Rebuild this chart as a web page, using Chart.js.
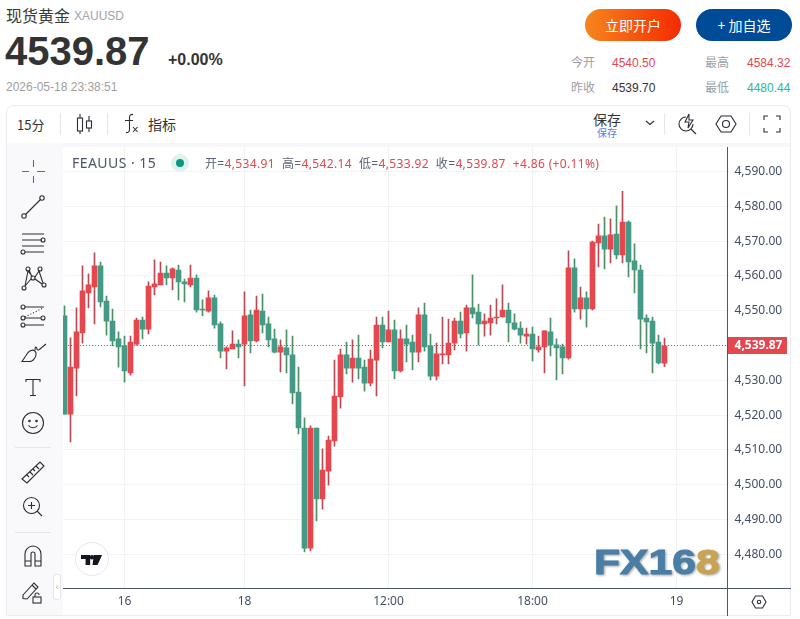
<!DOCTYPE html>
<html lang="zh">
<head>
<meta charset="utf-8">
<title>现货黄金 XAUUSD</title>
<script src="https://cdn.jsdelivr.net/npm/chart.js@4"></script>
<style>
html, body { margin: 0; padding: 0; background: #fff; }
body { width: 800px; height: 619px; position: relative; overflow: hidden; font-family: "Liberation Sans", "Noto Sans CJK SC", sans-serif; color: #333; }
.abs { position: absolute; white-space: nowrap; line-height: 1; }
.cjk { font-family: "Noto Sans CJK SC", sans-serif; }
.up { color: #e4474e; }
.stat { font-size: 12px; }
.label { color: #9a9ea8; }
.divider { position: absolute; background: #e6e6ea; }
.icon { position: absolute; fill: none; stroke: #2b2b33; stroke-width: 1.1; }
#panel { position: absolute; left: 6px; top: 105px; width: 785px; height: 511px; border: 1px solid #ececf0; border-radius: 8px 8px 0 0; box-sizing: border-box; }
#strip { position: absolute; left: 7px; top: 143px; width: 783px; height: 4px; background: #f7f7f9; }
#sidebar { position: absolute; left: 7px; top: 143px; width: 56px; height: 472px; background: #f9f9fb; }
#chartBox { position: absolute; left: 0; top: 0; width: 800px; height: 619px; }
#legend { font-family: "Noto Sans", "Noto Sans CJK SC", sans-serif; font-size: 12px; letter-spacing: .35px; color: #5a6478; top: 158px; left: 205px; }
</style>
</head>
<body>

<div class="abs cjk" style="left:6px;top:7px;font-size:16px;color:#3a3a3a;">现货黄金</div>
<div class="abs" style="left:74px;top:10px;font-size:12px;color:#a0a4ae;">XAUUSD</div>
<div class="abs" style="left:5px;top:31px;font-size:40px;font-weight:bold;color:#333;">4539.87</div>
<div class="abs" style="left:168px;top:52px;font-size:16px;font-weight:bold;color:#333;">+0.00%</div>
<div class="abs" style="left:6px;top:81px;font-size:12px;color:#a0a0a0;">2026-05-18 23:38:51</div>

<div class="abs cjk" style="left:585px;top:9px;width:96px;height:32px;line-height:32px;border-radius:16px;text-align:center;color:#fff;font-size:14px;background:linear-gradient(90deg,#f7861c,#f42a02);">立即开户</div>
<div class="abs cjk" style="left:696px;top:9px;width:96px;height:32px;line-height:32px;border-radius:16px;text-align:center;color:#fff;font-size:14px;background:#004b98;">+ 加自选</div>

<div class="abs stat cjk label" style="left:571px;top:56px;">今开</div>
<div class="abs stat up" style="left:612px;top:57px;">4540.50</div>
<div class="abs stat cjk label" style="left:705px;top:56px;">最高</div>
<div class="abs stat up" style="left:747px;top:57px;">4584.32</div>
<div class="abs stat cjk label" style="left:571px;top:81px;">昨收</div>
<div class="abs stat" style="left:612px;top:82px;">4539.70</div>
<div class="abs stat cjk label" style="left:705px;top:81px;">最低</div>
<div class="abs stat" style="left:747px;top:82px;color:#2bb59a;">4480.44</div>

<div id="panel"></div>
<div id="strip"></div>

<!-- top toolbar -->
<div class="abs cjk" style="left:17px;top:118px;font-size:13px;">15分</div>
<div class="divider" style="left:60px;top:113px;width:1px;height:22px;"></div>
<svg class="icon" style="left:75px;top:113px;" width="20" height="22"><path d="M5 1v4M5 18v3M14 3v5M14 15v4"/><rect x="2.500" y="5" width="5" height="13"/><rect x="11.500" y="8" width="5" height="7"/></svg>
<div class="divider" style="left:107px;top:113px;width:1px;height:22px;"></div>
<svg class="icon" style="left:123px;top:113px;" width="18" height="22"><path d="M10 1.500c-2.500-.5-3.500 1-3.500 3v12c0 2-1 3.500-3.500 3M2 7.500h8M10 14l4.500 5M14.500 14l-4.500 5"/></svg>
<div class="abs cjk" style="left:148px;top:117px;font-size:14px;">指标</div>
<div class="abs cjk" style="left:593px;top:112px;font-size:14px;">保存</div>
<div class="abs cjk" style="left:597px;top:128px;font-size:10px;color:#5b7ff0;">保存</div>
<svg class="icon" style="left:645px;top:119px;" width="10" height="8"><path d="M1 2l4 3.500 4-3.500"/></svg>
<div class="divider" style="left:664px;top:113px;width:1px;height:22px;"></div>
<svg class="icon" style="left:677px;top:112px;" width="22" height="24"><path d="M9 5a7 7 0 1 0 7 7M14 17l5 5M12 2l-4 8h4l-1 6 5-8h-4z"/></svg>
<svg class="icon" style="left:715px;top:113px;" width="22" height="22"><path d="M6 3h10l5 8-5 8H6l-5-8z"/><circle cx="11" cy="11" r="3.500"/></svg>
<div class="divider" style="left:749px;top:113px;width:1px;height:22px;"></div>
<svg class="icon" style="left:763px;top:115px;" width="18" height="18"><path d="M1 5V1h4M13 1h4v4M17 13v4h-4M5 17H1v-4"/></svg>

<!-- chart -->
<div id="chartBox"><canvas id="priceChart" width="800" height="619"></canvas></div>
<div id="sidebar"></div>

<!-- legend over the plot -->
<div class="abs" style="left:72px;top:156px;font-family:'Noto Sans',sans-serif;font-size:14px;letter-spacing:.45px;color:#4a5568;">FEAUUS · 15</div>
<div class="abs" style="left:171px;top:154px;width:18px;height:18px;border-radius:9px;background:#dff2ee;"></div>
<div class="abs" style="left:176px;top:159px;width:8px;height:8px;border-radius:4px;background:#089981;"></div>
<div class="abs" id="legend">开=<span class="up">4,534.91</span>&nbsp; 高=<span class="up">4,542.14</span>&nbsp; 低=<span class="up">4,533.92</span>&nbsp; 收=<span class="up">4,539.87</span>&nbsp; <span class="up">+4.86 (+0.11%)</span></div>

<!-- axis lines -->
<div class="abs" style="left:63px;top:588px;width:728px;height:1px;background:#4a5675;"></div>
<div class="abs" style="left:727px;top:147px;width:1px;height:469px;background:#4a5675;"></div>

<!-- drawing tools -->
<svg class="icon" style="left:20px;top:158px;" width="26" height="26"><path stroke="#3b6ee8" d="M13.500 2v7M13.500 18v7M2 13.500h7M17 13.500h8"/></svg>
<svg class="icon" style="left:20px;top:194px;" width="26" height="26"><circle cx="4" cy="22" r="2.200"/><circle cx="22" cy="4" r="2.200"/><path d="M5.500 20.500l15-15"/></svg>
<svg class="icon" style="left:20px;top:231px;" width="26" height="24"><path d="M2 3h22M2 9h20M2 15h22M5 21h19"/><circle cx="23" cy="9" r="2"/><circle cx="3" cy="21" r="2"/></svg>
<svg class="icon" style="left:21px;top:266px;" width="26" height="26"><circle cx="7" cy="3" r="2"/><circle cx="19" cy="3" r="2"/><circle cx="12" cy="12" r="2"/><circle cx="3" cy="22" r="2"/><circle cx="23" cy="19" r="2"/><path d="M4 20l3-15 4 5M8 4l3 7M14 11l4-6 4 12M10 13l-6 7M14 13l7 5"/></svg>
<svg class="icon" style="left:20px;top:304px;" width="26" height="24"><circle cx="3" cy="3" r="2"/><circle cx="3" cy="14" r="2"/><circle cx="3" cy="21" r="2"/><circle cx="23" cy="14" r="2"/><path d="M5 3h19M5 14h16M5 21h19"/><path stroke-dasharray="1 2" d="M5 13l18-9"/></svg>
<svg class="icon" style="left:20px;top:341px;" width="28" height="22"><path d="M2 20.500l6-9c2-2 5-3 7-1.500 2 2 1 6-1 8-1 2-3 2.500-5 2.500zM15 9c0-3 1-4 2-1 1 3 4-1 9-5"/></svg>
<svg class="icon" style="left:25px;top:378px;" width="16" height="19"><path d="M1 4V1.500h14V4M8 1.500v16M5 17.500h6"/></svg>
<svg class="icon" style="left:21px;top:411px;" width="24" height="24"><circle cx="12" cy="12" r="10.500"/><circle cx="8.500" cy="10" r=".8"/><circle cx="15.500" cy="10" r=".8"/><path d="M7.500 14.500c2 3 7 3 9 0"/></svg>
<div class="divider" style="left:15px;top:447px;width:36px;height:1px;"></div>
<svg class="icon" style="left:20px;top:459px;" width="26" height="26"><path d="M2 20L20 3l4 4L7 24zM7 16l2 2M10 13l3 3M13 10l2 2M16 7l3 3"/></svg>
<svg class="icon" style="left:22px;top:496px;" width="22" height="22"><circle cx="9.500" cy="9.500" r="8"/><path d="M9.500 6v7M6 9.500h7M15 15l5 5"/></svg>
<div class="divider" style="left:15px;top:532px;width:36px;height:1px;"></div>
<svg class="icon" style="left:24px;top:545px;" width="18" height="22"><path d="M1 21V9a8 8 0 0 1 16 0v12h-6V9a2 2 0 0 0-4 0v12zM1 16h6M11 16h6"/></svg>
<svg class="icon" style="left:21px;top:581px;" width="26" height="24"><path d="M2 14L13 2l4 4L6 18l-4-.5zM11 4l4 4"/><rect x="12" y="16" width="8" height="6"/><path d="M14 16v-2a2 2 0 0 1 4 0"/></svg>
<div class="abs" style="left:53px;top:574px;width:8px;height:26px;border:1px solid #e4e4ea;border-radius:3px;background:#fff;box-sizing:border-box;color:#aaa;font-size:9px;line-height:24px;text-align:center;">‹</div>

<!-- TradingView badge -->
<div class="abs" style="left:75px;top:542px;width:34px;height:34px;border-radius:17px;border:1px solid #e6e6ee;background:#fff;box-sizing:border-box;"></div>
<svg class="abs" style="left:81px;top:554px;" width="22" height="12" viewBox="0 0 24 13"><path fill="#131722" d="M0 1h10v11H5V5.500H0zM14 1h9l-5 11h-5.500z"/><circle cx="12" cy="3.500" r="2.400" fill="#131722"/></svg>

<!-- bottom right -->
<svg class="icon" style="left:751px;top:595px;" width="16" height="14"><path d="M4.500 1h7L15 7l-3.500 6h-7L1 7z"/><circle cx="8" cy="7" r="1.700"/></svg>

<!-- FX168 watermark -->
<div class="abs" style="left:594px;top:544px;font-size:35px;font-weight:bold;transform:scaleX(1.22);transform-origin:left top;color:#4a7ea5;-webkit-text-stroke:1px #4a7ea5;filter:drop-shadow(1px 1px 1px rgba(0,0,0,.35));">FX16<span style="color:#c9a352;-webkit-text-stroke:1px #c9a352;">8</span></div>

<script>
Chart.defaults.font.family = '"Noto Sans", sans-serif';

// candles, oldest first
const opens = [
  4548.5, 4520.3, 4533.5, 4543.6, 4555.1, 4556.8, 4562.9, 4552.8, 4547.0, 4541.9,
  4539.9, 4532.1, 4540.4, 4547.3, 4544.7, 4556.8, 4557.4, 4560.8, 4559.4, 4561.7,
  4558.3, 4557.4, 4559.4, 4550.5, 4549.9, 4553.7, 4546.2, 4538.4, 4539.0, 4540.4,
  4540.4, 4548.8, 4541.3, 4549.9, 4546.2, 4541.9, 4538.1, 4539.3, 4537.3, 4526.6,
  4516.3, 4481.8, 4516.3, 4495.9, 4503.9, 4512.6, 4525.2, 4537.3, 4533.5, 4536.4,
  4533.8, 4529.2, 4535.8, 4545.9, 4541.0, 4544.5, 4532.7, 4541.9, 4541.0, 4538.1,
  4548.8, 4539.9, 4531.2, 4537.3, 4537.3, 4540.7, 4547.0, 4543.6, 4550.8, 4549.6,
  4546.2, 4546.5, 4547.9, 4548.2, 4550.2, 4546.5, 4545.0, 4542.7, 4543.3, 4538.7,
  4539.6, 4543.9, 4540.2, 4539.6, 4536.4, 4562.3, 4550.5, 4553.7, 4550.5, 4569.5,
  4571.5, 4567.7, 4572.0, 4566.0, 4575.5, 4564.3, 4561.7, 4547.9, 4547.0, 4541.0,
  4534.91
];
const highs = [
  4551.4, 4542.2, 4550.8, 4562.9, 4560.6, 4566.6, 4564.0, 4554.2, 4550.5, 4543.9,
  4542.7, 4542.7, 4547.9, 4548.2, 4558.3, 4564.6, 4564.0, 4562.9, 4562.3, 4563.1,
  4559.1, 4563.1, 4560.3, 4553.1, 4555.7, 4554.5, 4546.8, 4539.6, 4544.2, 4541.6,
  4555.4, 4550.2, 4554.2, 4554.8, 4548.2, 4544.7, 4541.6, 4544.5, 4542.7, 4533.8,
  4519.2, 4516.9, 4516.3, 4510.3, 4514.0, 4535.8, 4539.0, 4541.0, 4541.6, 4543.0,
  4535.8, 4538.7, 4548.2, 4548.2, 4549.9, 4547.3, 4544.5, 4545.9, 4543.0, 4550.8,
  4552.2, 4543.3, 4540.7, 4548.2, 4547.6, 4547.9, 4549.6, 4551.6, 4560.3, 4551.9,
  4549.1, 4551.6, 4553.4, 4557.4, 4552.2, 4549.1, 4546.8, 4545.0, 4545.3, 4542.7,
  4544.2, 4547.9, 4541.9, 4540.4, 4567.2, 4564.9, 4556.8, 4555.4, 4570.0, 4574.9,
  4576.9, 4576.4, 4580.1, 4584.3, 4575.8, 4569.2, 4563.1, 4548.8, 4548.2, 4543.0,
  4542.14
];
const lows = [
  4520.3, 4512.3, 4525.5, 4540.7, 4550.8, 4546.2, 4551.1, 4543.0, 4539.9, 4533.8,
  4529.5, 4531.5, 4540.1, 4541.9, 4543.3, 4554.5, 4557.4, 4557.4, 4556.0, 4553.1,
  4552.5, 4556.8, 4549.6, 4548.5, 4549.6, 4545.0, 4536.4, 4533.3, 4539.0, 4536.4,
  4528.4, 4537.9, 4541.0, 4543.6, 4539.6, 4537.9, 4532.4, 4532.1, 4523.2, 4514.6,
  4480.7, 4481.0, 4489.6, 4493.0, 4499.9, 4511.1, 4522.0, 4531.8, 4529.5, 4530.4,
  4526.9, 4528.4, 4525.5, 4539.3, 4541.0, 4530.4, 4532.4, 4535.3, 4533.0, 4535.3,
  4538.4, 4530.1, 4530.1, 4534.7, 4534.7, 4538.7, 4542.2, 4538.4, 4547.9, 4540.2,
  4542.7, 4543.0, 4546.2, 4548.2, 4541.0, 4544.5, 4540.7, 4540.4, 4535.6, 4538.1,
  4532.1, 4537.0, 4530.1, 4531.8, 4536.1, 4549.6, 4547.6, 4545.3, 4550.2, 4562.6,
  4562.0, 4563.7, 4564.9, 4563.7, 4559.7, 4555.1, 4539.0, 4537.9, 4532.1, 4534.7,
  4533.92
];
const closes = [
  4520.3, 4533.8, 4543.9, 4555.7, 4557.4, 4562.9, 4552.5, 4547.0, 4541.3, 4539.6,
  4532.7, 4541.0, 4547.3, 4544.7, 4557.1, 4557.7, 4560.8, 4559.4, 4562.0, 4558.3,
  4557.7, 4559.4, 4550.2, 4550.2, 4553.7, 4545.9, 4538.4, 4539.3, 4540.4, 4539.6,
  4548.5, 4541.3, 4550.2, 4545.9, 4541.6, 4538.1, 4539.6, 4537.3, 4526.4, 4516.3,
  4481.8, 4516.3, 4495.9, 4504.2, 4512.8, 4525.5, 4537.3, 4533.5, 4536.4, 4533.5,
  4529.2, 4536.1, 4545.9, 4541.0, 4544.5, 4532.7, 4541.9, 4540.4, 4538.1, 4548.8,
  4539.6, 4531.2, 4537.6, 4537.6, 4540.7, 4547.0, 4543.3, 4550.8, 4549.1, 4546.2,
  4547.0, 4547.9, 4548.2, 4550.2, 4546.5, 4544.7, 4543.0, 4543.3, 4539.0, 4539.6,
  4544.2, 4540.2, 4539.3, 4536.4, 4562.3, 4550.5, 4553.7, 4550.5, 4569.7, 4571.5,
  4567.7, 4571.8, 4566.0, 4575.5, 4564.0, 4561.7, 4547.6, 4546.8, 4540.7, 4535.0,
  4539.87
];

const yTicks = [4480, 4490, 4500, 4510, 4520, 4530, 4540, 4550, 4560, 4570, 4580, 4590];
const xTickLabels = ['16', '18', '12:00', '18:00', '19'];
const xTickSlots = [10, 30, 54, 78, 102];
const emptySlots = 10; // free room right of the last candle
const lastClose = closes[closes.length - 1];

const upBody = '#e4474e';
const downBody = '#449a84';
const upWick = '#b84a55';
const downWick = '#4c9164';
const gridColor = '#f3f3f5';
const axisText = '#434e66';

let labels = [];
for (let i = 0; i < opens.length + emptySlots; i++) {
    let at = xTickSlots.indexOf(i);
    labels.push(at >= 0 ? xTickLabels[at] : '');
}

let isUp = opens.map((o, i) => closes[i] >= o);

// dotted last price line (under the candles) and the red tag on the axis
const priceLine = {
    id: 'priceLine',
    beforeDatasetsDraw(chart) {
        let ctx = chart.ctx;
        let area = chart.chartArea;
        let y = Math.floor(chart.scales.y.getPixelForValue(lastClose)) + 0.5 - 1;
        y = Math.round(y) + 0.5;
        ctx.save();
        ctx.strokeStyle = upBody;
        ctx.lineWidth = 1;
        ctx.setLineDash([1, 2]);
        ctx.beginPath();
        ctx.moveTo(Math.ceil(area.left), y);
        ctx.lineTo(area.right, y);
        ctx.stroke();
        ctx.setLineDash([]);
        ctx.fillStyle = upBody;
        ctx.fillRect(727, y - 8.5, 60, 17);
        ctx.fillStyle = '#fff';
        ctx.font = 'bold 12px "Noto Sans", sans-serif';
        ctx.textAlign = 'center';
        ctx.textBaseline = 'middle';
        ctx.fillText(lastClose.toLocaleString('en-US', { minimumFractionDigits: 2 }), 758.5, y);
        ctx.restore();
    }
};

new Chart(document.getElementById('priceChart').getContext('2d'), {
    type: 'bar',
    data: {
        labels: labels,
        datasets: [
            {
                label: 'body',
                data: opens.map((o, i) => [o, closes[i]]),
                backgroundColor: isUp.map(up => up ? upBody : downBody),
                barThickness: 5,
                order: 1
            },
            {
                label: 'wick',
                data: lows.map((l, i) => [l, highs[i]]),
                backgroundColor: isUp.map(up => up ? upWick : downWick),
                barThickness: 1,
                order: 2
            }
        ]
    },
    options: {
        responsive: false,
        animation: false,
        events: [],
        layout: { padding: { left: 61.5, top: 147, right: 7.5, bottom: 0 } },
        plugins: { legend: { display: false }, tooltip: { enabled: false } },
        datasets: { bar: { grouped: false } },
        scales: {
            x: {
                grid: {
                    offset: false,
                    drawTicks: false,
                    color: ctx => (ctx.tick && ctx.tick.label) ? gridColor : 'transparent'
                },
                border: { display: false },
                ticks: {
                    autoSkip: false,
                    maxRotation: 0,
                    padding: 6,
                    color: axisText,
                    font: { size: 12 }
                },
                afterFit: scale => { scale.height = 31; }
            },
            y: {
                position: 'right',
                min: 4470.32,
                max: 4597.04,
                grid: { drawTicks: false, color: gridColor },
                border: { display: false },
                afterBuildTicks: scale => { scale.ticks = yTicks.map(v => ({ value: v })); },
                ticks: {
                    padding: 7,
                    color: axisText,
                    font: { size: 12 },
                    callback: v => v.toLocaleString('en-US', { minimumFractionDigits: 2 })
                },
                afterFit: scale => { scale.width = 65; }
            }
        }
    },
    plugins: [priceLine]
});
</script>
</body>
</html>
